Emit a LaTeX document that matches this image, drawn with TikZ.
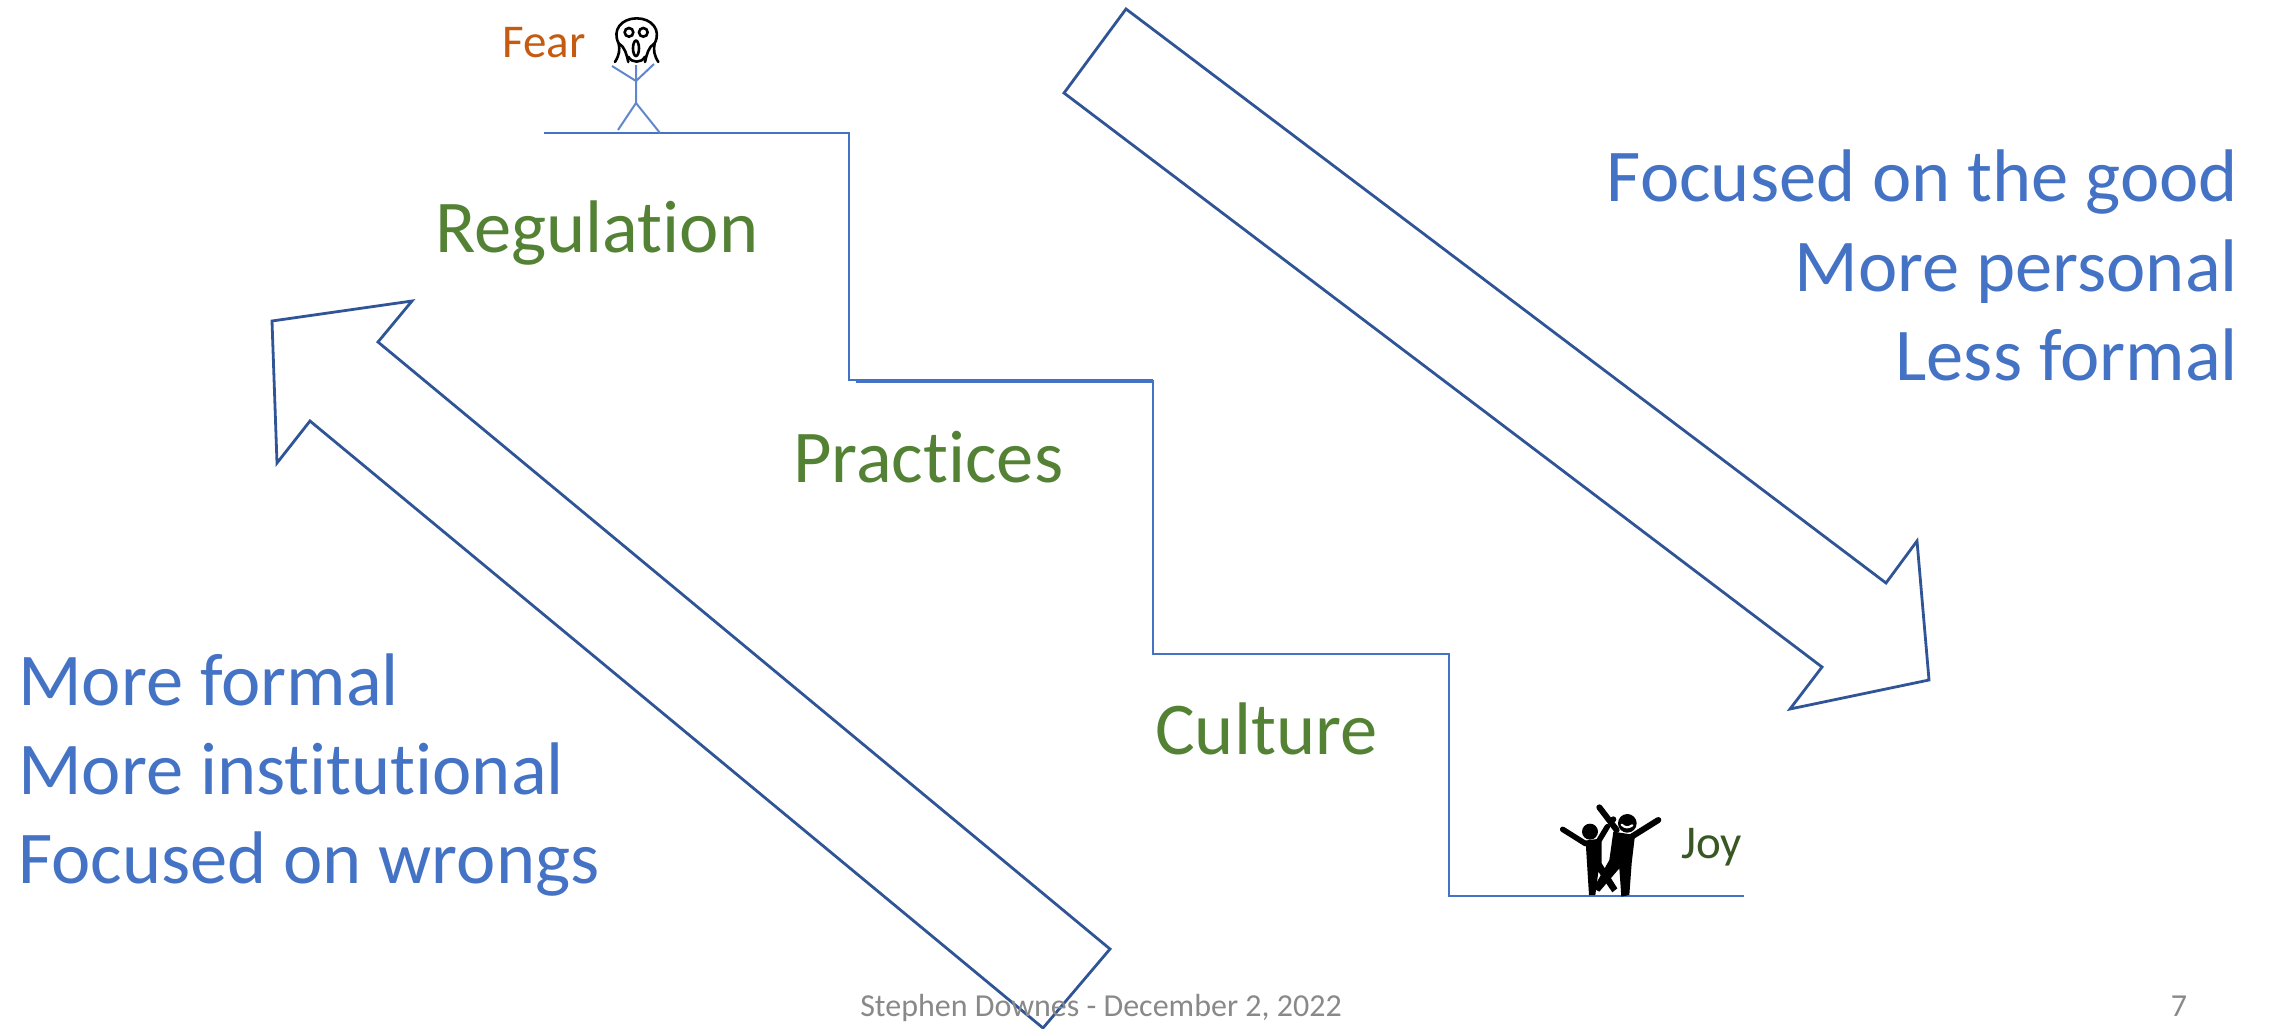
\documentclass[tikz,border=0pt]{standalone}
\usepackage{fontspec}
\setmainfont{Carlito}[Ligatures=NoCommon]
\definecolor{bluetxt}{HTML}{4472C4}
\definecolor{greentxt}{HTML}{548235}
\definecolor{fearc}{HTML}{C55A11}
\definecolor{joyc}{HTML}{385723}
\definecolor{arrowc}{HTML}{2F5597}
\definecolor{stepc}{HTML}{4472C4}
\definecolor{footc}{HTML}{898989}
\tikzset{
  bigarrow/.style={draw=arrowc,line width=2.8pt,line join=miter},
  stair/.style={draw=stepc,line width=2pt},
  stick/.style={draw=stepc!85!white,line width=2pt},
  side/.style={text=bluetxt,font=\fontsize{74.5}{88}\selectfont,inner sep=0pt,align=left},
  level/.style={text=greentxt,font=\fontsize{74.5}{88}\selectfont,inner sep=0pt,anchor=base west},
  foot/.style={text=footc,font=\fontsize{32}{36}\selectfont,inner sep=0pt},
  ink/.style={draw=black,line width=2.6pt,line cap=round},
  dancer/.style={draw=black,line cap=round},
}
\begin{document}
\begin{tikzpicture}[x=1pt,y=-1pt]
\useasboundingbox (0,0) rectangle (2269,1028);
\begin{scope}
\clip (0,0) rectangle (2269,1028);
% arrows
\draw[bigarrow] (1126,9) -- (1064,93) -- (1822,667) -- (1790,709) -- (1929,680) -- (1917,541) -- (1886,583) -- cycle;
\draw[bigarrow] (1110,949) -- (378,342) -- (412,301) -- (272,321) -- (277,463) -- (310,421) -- (1043,1028) -- cycle;
\end{scope}
% stairs
\draw[stair] (544,133) -- (849,133) -- (849,380) -- (1153,380);
\draw[stair] (856,382) -- (1153,382);
\draw[stair] (1153,380) -- (1153,654) -- (1449,654) -- (1449,896) -- (1744,896);
% text
\node[level] (reg) at (435,252) {Regulation};
\node[level] (pra) at (793,482) {Practices};
\node[level] (cul) at (1155,754) {Culture};
\node[side,anchor=base west] (l1) at (18,705) {More formal};
\node[side,anchor=base west] (l2) at (18,794) {More institutional};
\node[side,anchor=base west] (l3) at (18,883) {Focused on wrongs};
\node[side,anchor=base east] (r1) at (2238,201) {Focused on the good};
\node[side,anchor=base east] (r2) at (2238,291) {More personal};
\node[side,anchor=base east] (r3) at (2238,380) {Less formal};
\node[anchor=base west,inner sep=0pt,text=fearc,font=\fontsize{47}{50}\selectfont] (fear) at (502,57) {Fear};
\node[anchor=base west,inner sep=0pt,text=joyc,font=\fontsize{47}{50}\selectfont] (joy) at (1681,858) {Joy};
\node[foot,anchor=base] (ft) at (1101,1016) {Stephen Downes - December 2, 2022};
\node[foot,anchor=base] (pg) at (2179,1016) {7};
% stick figure
\draw[stick] (636,65) -- (636,103) -- (618,130);
\draw[stick] (636,103) -- (660,133);
\draw[stick] (612,66) -- (636,81) -- (654,64);
% scream face
\begin{scope}[shift={(480,0)},x=0.3333pt,y=-0.3333pt]
\draw[ink] (405,186) .. controls (418,165) and (420,150) .. (416,130) .. controls (395,90) and (425,55) .. (470,55) .. controls (515,55) and (545,90) .. (524,130) .. controls (520,150) and (522,165) .. (535,186);
\draw[ink] (416,130) .. controls (435,140) and (440,165) .. (445,186);
\draw[ink] (524,130) .. controls (505,140) and (500,165) .. (495,186);
\draw[ink] (445,170) .. controls (455,190) and (485,190) .. (495,170);
\draw[ink] (447,97) circle (13);
\draw[ink] (490,97) circle (13);
\draw[ink] (468,145) ellipse (9 and 23);
\end{scope}
% dancers
\begin{scope}[shift={(1520,780)},x=0.3333pt,y=-0.3333pt]
\fill (210,155) circle (24);
\draw[dancer,line width=5.5pt] (128,148) -- (195,190) -- (235,185) -- (262,140);
\fill (197,185) -- (245,185) -- (245,250) -- (292,325) -- (277,337) -- (235,275) -- (226,345) -- (207,345) -- cycle;
\fill (322,130) circle (28);
\draw[white,line width=2.2pt,line cap=round] (305,134) .. controls (315,144) and (325,144) .. (337,136);
\draw[dancer,line width=6pt] (238,82) -- (290,150);
\draw[dancer,line width=6pt] (415,120) -- (335,170);
\fill (280,118) circle (9);
\fill (280,155) -- (345,165) -- (335,250) -- (328,345) -- (304,350) -- (298,265) -- (238,335) -- (220,325) -- (268,240) -- cycle;
\end{scope}
\end{tikzpicture}
\end{document}
